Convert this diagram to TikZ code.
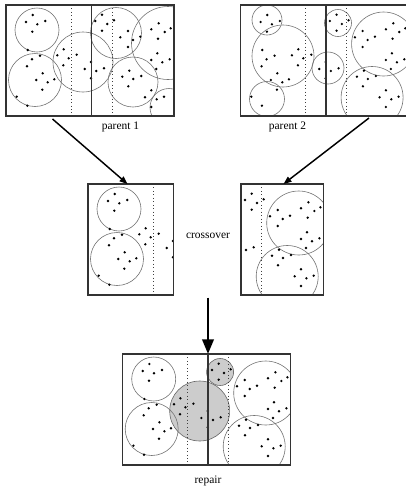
\documentclass[tikz,border=0pt]{standalone}
\usepackage{fontspec}
\setmainfont{Liberation Serif}
\usetikzlibrary{arrows.meta}
\tikzset{
    frame/.style = {draw=black!80, line width=0.9pt},
    cutline/.style = {draw=black!80, line width=0.9pt},
    splitline/.style = {draw=black!75, line width=0.6pt, dotted},
    ring/.style = {draw=black!55, line width=0.45pt},
    ringg/.style = {draw=black!60, line width=0.45pt, fill=black!20}, % repaired
    pt/.style = {fill=black},
    edgen/.style = {-{Triangle[length=6pt,width=4.5pt]}, line width=1.1pt},
    edgeb/.style = {-{Triangle[length=11pt,width=8.5pt]}, line width=2pt},
    lbl/.style = {font=\fontsize{8.6}{10}\selectfont, inner sep=0pt, anchor=base}
}
% the points, in box coordinates
\newcommand{\pointset}{%
  \foreach \px/\py in {26.7/10, 20/17, 31.3/19.3, 39.3/16, 26.3/26.7, 21.7/45,
    26/54.3, 34/50.7, 21/61.3, 36.7/68.3, 30.3/75, 41.7/77.3, 48.3/74.3, 36.3/84.7, 10.7/91.7, 21.3/100.7,
    51.3/50.3, 57.7/44.3, 62.7/53.3, 70.7/49.7, 57.3/60.3, 78.7/64, 85/57, 85/73.3, 90.3/66, 98/63.3,
    96/9.7, 89.3/16, 101.3/19, 108/15.3, 96/25.7, 114.3/32.3, 122/26, 127/35, 134.3/31.7, 122/42,
    152.7/18.3, 145.3/24.3, 158.7/27, 164.7/23.3, 152/33.7, 151.3/48.3, 145.3/55, 156.3/57.3, 163.7/54.3, 150.3/64,
    116.3/71.7, 123.3/65.7, 127.3/74, 135.3/71, 122.3/81.3, 145.3/85.3,
    139/92.3, 150.7/94.3, 158/91.7, 145.3/102}
    \fill[pt] (\px,\py) circle[radius=1pt];
}
\newcommand{\ringsone}{31/25/22, 29/75/26.5, 77/57/30, 110/28/25.5, 162/38/36.5, 127/77/25, 163/102.5/19}
\newcommand{\ringstwo}{26.4/15/15, 42.4/51/31, 26.4/94/17.5, 87.4/63/16, 97.4/18/13.5, 143/39/32, 131.5/92.5/31}

\begin{document}
\begin{tikzpicture}[x=0.75pt, y=-0.75pt]
\useasboundingbox (0,0) rectangle (405,487);
%
% parent 1
\begin{scope}[shift={(6,5)}]
  \begin{scope}
    \clip (0,0) rectangle (168,111);
    \foreach \cx/\cy/\r in \ringsone
      \draw[ring] (\cx,\cy) circle[radius=\r];
    \pointset
  \end{scope}
  \draw[splitline] (65,0) -- (65,111);
  \draw[splitline] (106,0) -- (106,111);
  \draw[cutline] (85.3,0) -- (85.3,111);
  \draw[frame] (0,0) rectangle (168,111);
\end{scope}
%
% parent 2
\begin{scope}[shift={(240.6,5)}]
  \begin{scope}
    \clip (0,0) rectangle (168,111);
    \foreach \cx/\cy/\r in \ringstwo
      \draw[ring] (\cx,\cy) circle[radius=\r];
    \pointset
  \end{scope}
  \draw[splitline] (65,0) -- (65,111);
  \draw[splitline] (106,0) -- (106,111);
  \draw[cutline] (85.3,0) -- (85.3,111);
  \draw[frame] (0,0) rectangle (168,111);
\end{scope}
%
% child 1
\begin{scope}[shift={(88,184)}]
  \begin{scope}
    \clip (0,0) rectangle (85.3,111);
    \draw[ring] (31,25) circle[radius=22];
    \draw[ring] (29,75) circle[radius=26.5];
    \pointset
  \end{scope}
  \draw[splitline] (65,0) -- (65,111);
  \draw[frame] (0,0) rectangle (85.3,111);
\end{scope}
%
% child 2
\begin{scope}[shift={(155.7,184)}]
  \begin{scope}
    \clip (85.3,0) rectangle (168,111);
    \draw[ring] (143,39) circle[radius=32];
    \draw[ring] (131.5,92.5) circle[radius=31];
    \pointset
  \end{scope}
  \draw[splitline] (106,0) -- (106,111);
  \draw[frame] (85.3,0) rectangle (168,111);
\end{scope}
%
% repaired child
\begin{scope}[shift={(122.7,354)}]
  \begin{scope}
    \clip (0,0) rectangle (168,111);
    \draw[ringg] (77,57) circle[radius=30];
    \draw[ringg] (97.4,18) circle[radius=13.5];
    \draw[ring] (31,25) circle[radius=22];
    \draw[ring] (29,75) circle[radius=26.5];
    \draw[ring] (143,39) circle[radius=32];
    \draw[ring] (131.5,92.5) circle[radius=31];
    \pointset
  \end{scope}
  \draw[splitline] (65,0) -- (65,111);
  \draw[splitline] (106,0) -- (106,111);
  \draw[cutline] (85.3,0) -- (85.3,111);
  \draw[frame] (0,0) rectangle (168,111);
\end{scope}
%
\node[lbl] at (120.5,129.5) (lp1) {parent 1};
\node[lbl] at (287.5,129.5) (lp2) {parent 2};
\node[lbl] at (208,238.5) (lcx) {crossover};
\node[lbl] at (208,483.5) (lrep) {repair};
%
\coordinate (p1out) at (52.5,119);
\coordinate (c1in) at (127.5,184);
\coordinate (p2out) at (369,118);
\coordinate (c2in) at (283.5,184);
\coordinate (cxout) at (208,297.5);
\coordinate (repin) at (208,354);
%
\draw[edgen] (p1out) -- (c1in);
\draw[edgen] (p2out) -- (c2in);
\draw[edgeb] (cxout) -- (repin);

\end{tikzpicture}
\end{document}
